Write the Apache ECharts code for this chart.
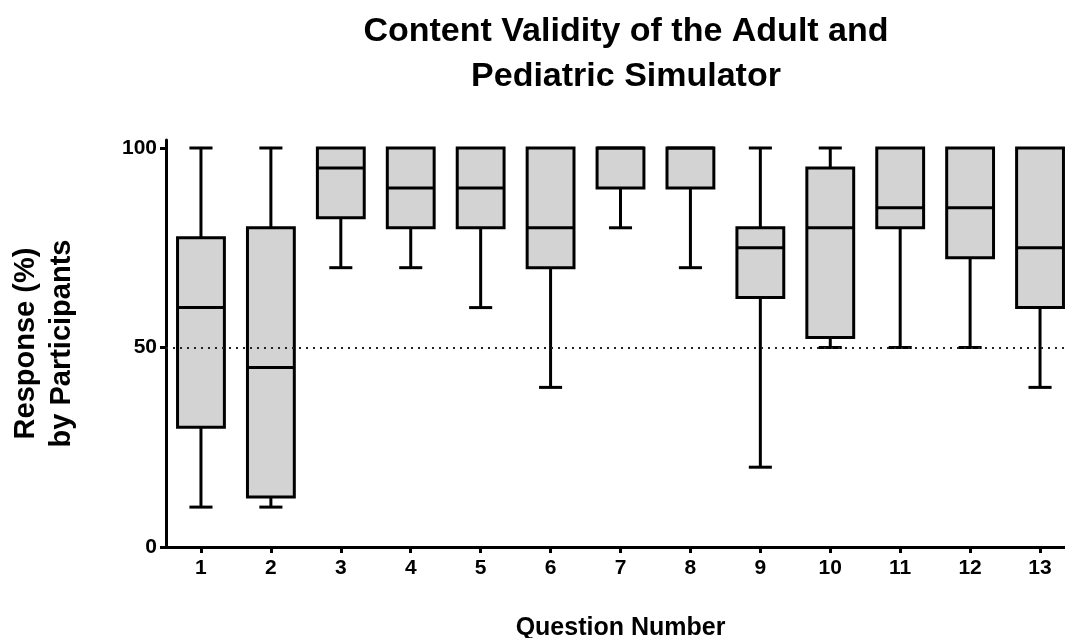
<!DOCTYPE html>
<html>
<head>
<meta charset="utf-8">
<script src="https://cdn.jsdelivr.net/npm/echarts@6/dist/echarts.min.js"></script>
<style>
html,body{margin:0;padding:0;background:#fff;}
#chart{width:1065px;height:638px;}
</style>
</head>
<body>
<div id="chart"></div>
<script>
// Data
var questions = ['1','2','3','4','5','6','7','8','9','10','11','12','13'];
var whiskerLow  = [10, 10, 70, 70, 60, 40, 80, 70, 20, 50, 50, 50, 40];
var quartile1   = [30, 12.5, 82.5, 80, 80, 70, 90, 90, 62.5, 52.5, 80, 72.5, 60];
var medians     = [60, 45, 95, 90, 90, 80, 100, 100, 75, 80, 85, 85, 75];
var quartile3   = [77.5, 80, 100, 100, 100, 100, 100, 100, 80, 95, 100, 100, 100];
var whiskerHigh = [100, 100, 100, 100, 100, 100, 100, 100, 100, 100, 100, 100, 100];
var yTickValues = [0, 50, 100];
var referenceValue = 50;

var boxData = questions.map(function (q, i) {
  return [i, whiskerLow[i], quartile1[i], medians[i], quartile3[i], whiskerHigh[i]];
});

var FONT = '"Liberation Sans", Arial, sans-serif';
var chart = echarts.init(document.getElementById('chart'), null, {renderer: 'canvas'});

function renderBox(params, api) {
  var x = api.value(0);
  var pMin = api.coord([x, api.value(1)]);
  var pQ1 = api.coord([x, api.value(2)]);
  var pMed = api.coord([x, api.value(3)]);
  var pQ3 = api.coord([x, api.value(4)]);
  var pMax = api.coord([x, api.value(5)]);
  var band = api.size([1, 0])[0];
  var boxW = band * 0.67;
  var capW = band * 0.33;
  var cx = pMed[0];
  var line = {stroke: '#000', lineWidth: 3};
  var children = [];
  if (pMax[1] < pQ3[1] - 0.5) {
    children.push({type: 'line', shape: {x1: cx, y1: pQ3[1], x2: cx, y2: pMax[1]}, style: line});
    children.push({type: 'line', shape: {x1: cx - capW / 2, y1: pMax[1], x2: cx + capW / 2, y2: pMax[1]}, style: line});
  }
  if (pMin[1] > pQ1[1] + 0.5) {
    children.push({type: 'line', shape: {x1: cx, y1: pQ1[1], x2: cx, y2: pMin[1]}, style: line});
    children.push({type: 'line', shape: {x1: cx - capW / 2, y1: pMin[1], x2: cx + capW / 2, y2: pMin[1]}, style: line});
  }
  children.push({type: 'rect', shape: {x: cx - boxW / 2, y: pQ3[1], width: boxW, height: pQ1[1] - pQ3[1]},
    style: {fill: '#d3d3d3', stroke: '#000', lineWidth: 3}});
  children.push({type: 'line', shape: {x1: cx - boxW / 2, y1: pMed[1], x2: cx + boxW / 2, y2: pMed[1]}, style: line});
  return {type: 'group', children: children};
}

var option = {
  animation: false,
  backgroundColor: '#ffffff',
  title: {
    text: 'Content Validity of the Adult and\nPediatric Simulator',
    left: 621, top: 4, textAlign: 'center',
    textStyle: {fontFamily: FONT, fontWeight: 'bold', fontSize: 34, lineHeight: 45, color: '#000'}
  },
  grid: {left: 166, width: 909, top: 140, height: 407, containLabel: false, outerBoundsMode: 'none'},
  xAxis: {
    type: 'category',
    data: questions,
    boundaryGap: true,
    axisLine: {show: true, lineStyle: {color: '#000', width: 3}},
    axisTick: {show: true, alignWithLabel: true, length: 6, lineStyle: {color: '#000', width: 3}},
    axisLabel: {fontFamily: FONT, fontWeight: 'bold', fontSize: 21, color: '#000', margin: 11},
    splitLine: {show: false},
    name: 'Question Number',
    nameLocation: 'middle',
    nameGap: 69,
    nameTextStyle: {fontFamily: FONT, fontWeight: 'bold', fontSize: 25, color: '#000'}
  },
  yAxis: {
    type: 'value',
    min: 0, max: 102,
    axisLine: {show: true, lineStyle: {color: '#000', width: 3}},
    axisTick: {show: true, customValues: yTickValues, length: 6, lineStyle: {color: '#000', width: 3}},
    axisLabel: {customValues: yTickValues, fontFamily: FONT, fontWeight: 'bold', fontSize: 21, color: '#000', margin: 9},
    splitLine: {show: false},
    name: 'Response (%)\nby Participants',
    nameLocation: 'middle',
    nameGap: 86,
    nameTextStyle: {fontFamily: FONT, fontWeight: 'bold', fontSize: 29, lineHeight: 36, color: '#000'}
  },
  series: [
    {
      type: 'line', data: [], z: 1, silent: true,
      markLine: {
        silent: true, symbol: 'none', label: {show: false},
        lineStyle: {type: [2, 5], color: '#222', width: 2},
        data: [{yAxis: referenceValue}]
      }
    },
    {
      type: 'custom', z: 3,
      renderItem: renderBox,
      encode: {x: 0, y: [1, 2, 3, 4, 5]},
      data: boxData
    }
  ]
};
chart.setOption(option);
</script>
</body>
</html>
